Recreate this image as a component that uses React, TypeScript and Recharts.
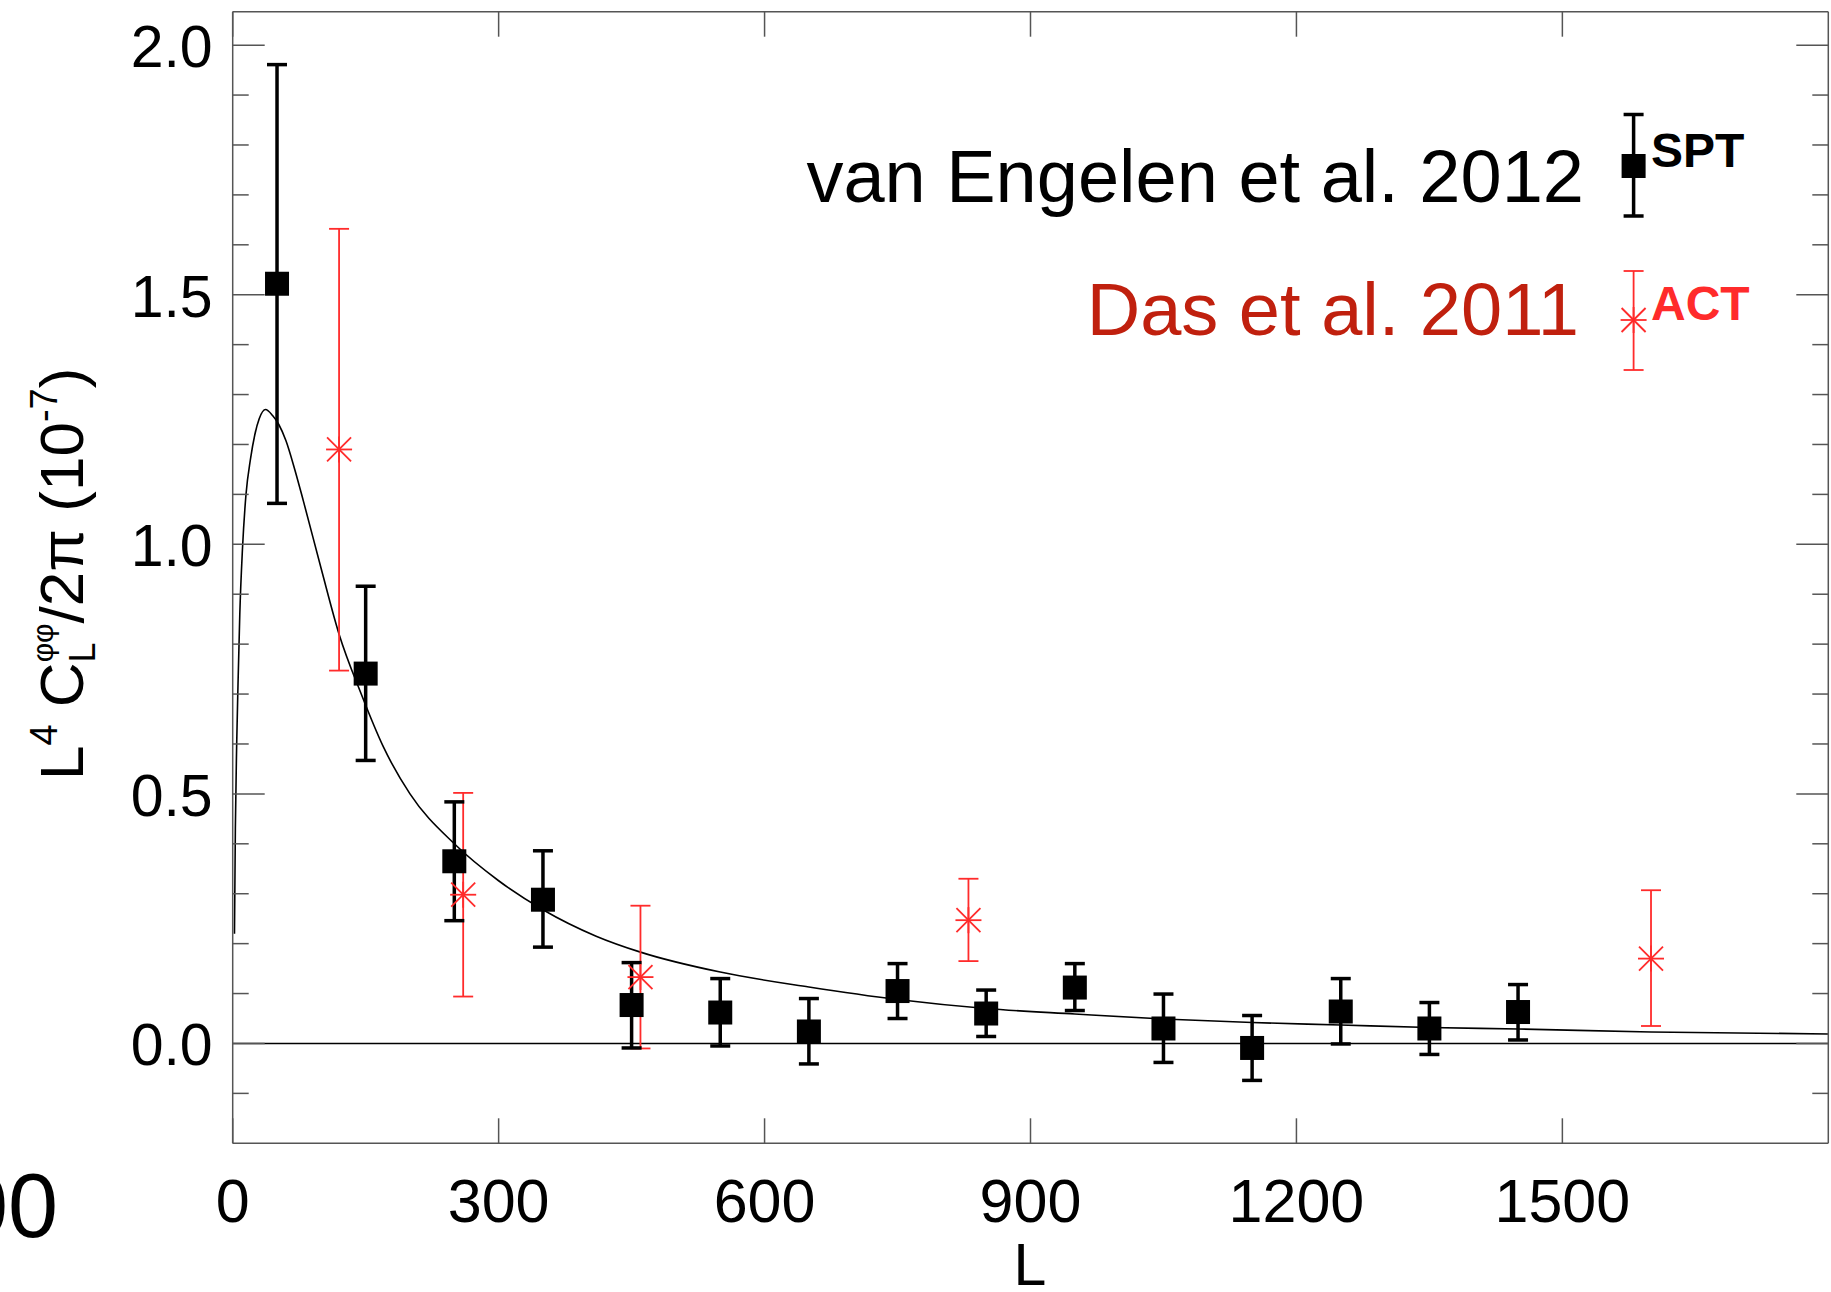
import React from "react";
import { ComposedChart, XAxis, YAxis, Scatter, Line, ErrorBar, ReferenceLine } from "recharts";

const FONT = '"Liberation Sans", Arial, Helvetica, sans-serif';
const FRAME = "#555";
const RED = "#ff2b2b";
const RED_TEXT = "#c0200e";

// SPT bandpowers (van Engelen et al. 2012)
const SPT_L = [50, 150, 250, 350, 450, 550, 650, 750, 850, 950, 1050, 1150, 1250, 1350, 1450];
const SPT_VAL = [1.522, 0.741, 0.365, 0.288, 0.077, 0.062, 0.024, 0.105, 0.06, 0.112, 0.03, -0.009, 0.064, 0.03, 0.063];
const SPT_HI = [1.961, 0.916, 0.484, 0.386, 0.162, 0.13, 0.09, 0.16, 0.107, 0.16, 0.099, 0.056, 0.13, 0.082, 0.118];
const SPT_LO = [1.082, 0.567, 0.246, 0.193, -0.009, -0.005, -0.041, 0.05, 0.014, 0.066, -0.038, -0.074, -0.001, -0.022, 0.007];

// ACT bandpowers (Das et al. 2011)
const ACT_L = [120, 260, 460, 830, 1600];
const ACT_VAL = [1.19, 0.298, 0.133, 0.247, 0.17];
const ACT_HI = [1.632, 0.502, 0.276, 0.33, 0.307];
const ACT_LO = [0.747, 0.094, -0.01, 0.165, 0.035];

// theory curve
const THEORY_L = [2, 3, 4.5, 6, 8, 11, 15, 20, 25, 30, 37, 45, 52, 60, 70, 80, 100, 120, 145, 170, 200, 250, 300, 350, 410, 460, 550, 650, 750, 850, 950, 1050, 1150, 1250, 1350, 1450, 1600, 1800];
const THEORY_V = [0.22, 0.43, 0.6, 0.72, 0.86, 0.99, 1.1, 1.17, 1.22, 1.252, 1.27, 1.258, 1.24, 1.208, 1.15, 1.085, 0.95, 0.82, 0.7, 0.594, 0.5, 0.4, 0.326, 0.268, 0.215, 0.183, 0.143, 0.113, 0.088, 0.07, 0.059, 0.049, 0.042, 0.037, 0.032, 0.029, 0.023, 0.019];

// axes
const X_TICKS = [0, 300, 600, 900, 1200, 1500];
const X_LABELS = ["0", "300", "600", "900", "1200", "1500"];
const Y_TICKS = [-0.1, 0, 0.1, 0.2, 0.3, 0.4, 0.5, 0.6, 0.7, 0.8, 0.9, 1, 1.1, 1.2, 1.3, 1.4, 1.5, 1.6, 1.7, 1.8, 1.9, 2];
const Y_MAJOR = [0, 0.5, 1, 1.5, 2];
const Y_LABELS = ["0.0", "0.5", "1.0", "1.5", "2.0"];

const W = 1831;
const H = 1292;
// every axis is 1px thick, so the plot box lands at 232.7..1828.3 x 11.7..1143.3
const MARGIN = { top: 10.7, right: 1.7, bottom: 147.7, left: 231.7 };

const spt = SPT_L.map((L, i) => ({ L, v: SPT_VAL[i], err: [SPT_VAL[i] - SPT_LO[i], SPT_HI[i] - SPT_VAL[i]] }));
const act = ACT_L.map((L, i) => ({ L, v: ACT_VAL[i], err: [ACT_VAL[i] - ACT_LO[i], ACT_HI[i] - ACT_VAL[i]] }));
const theory = THEORY_L.map((L, i) => ({ L, v: THEORY_V[i] }));

function Square(props: any) {
  const { cx, cy } = props;
  if (cx == null || cy == null) return null;
  return <rect x={cx - 12} y={cy - 12} width={24} height={24} fill="#000" />;
}

function Asterisk(props: any) {
  const { cx, cy } = props;
  if (cx == null || cy == null) return null;
  const r = 13;
  const d = 12;
  return (
    <g stroke={RED} strokeWidth={1.8}>
      <line x1={cx - r} y1={cy} x2={cx + r} y2={cy} />
      <line x1={cx} y1={cy - r} x2={cx} y2={cy + r} />
      <line x1={cx - d} y1={cy - d} x2={cx + d} y2={cy + d} />
      <line x1={cx - d} y1={cy + d} x2={cx + d} y2={cy - d} />
    </g>
  );
}

function BottomTick(props: any) {
  const { x, y, payload } = props;
  const i = X_TICKS.indexOf(payload.value);
  return (
    <g>
      <line x1={x} y1={y} x2={x} y2={y - 25} stroke={FRAME} strokeWidth={1.5} />
      {i >= 0 && (
        <text x={x} y={y + 79} textAnchor="middle" fontSize={61} fontFamily={FONT} fill="#000">
          {X_LABELS[i]}
        </text>
      )}
    </g>
  );
}

function TopTick(props: any) {
  const { x, y } = props;
  return <line x1={x} y1={y} x2={x} y2={y + 25} stroke={FRAME} strokeWidth={1.5} />;
}

function LeftTick(props: any) {
  const { x, y, payload } = props;
  const i = Y_MAJOR.indexOf(payload.value);
  const len = i >= 0 ? 32 : 16;
  return (
    <g>
      <line x1={x} y1={y} x2={x + len} y2={y} stroke={FRAME} strokeWidth={1.5} />
      {i >= 0 && (
        <text x={x - 20} y={y + 22} textAnchor="end" fontSize={59} fontFamily={FONT} fill="#000">
          {Y_LABELS[i]}
        </text>
      )}
    </g>
  );
}

function RightTick(props: any) {
  const { x, y, payload } = props;
  const len = Y_MAJOR.indexOf(payload.value) >= 0 ? 32 : 16;
  return <line x1={x} y1={y} x2={x - len} y2={y} stroke={FRAME} strokeWidth={1.5} />;
}

function Overlay() {
  const mx = 1633.6;
  return (
    <svg width={W} height={H} style={{ position: "absolute", left: 0, top: 0, pointerEvents: "none" }}>
      {/* y axis title */}
      <text transform="translate(83,780) rotate(-90)" fontSize={62} fontFamily={FONT} fill="#000">
        <tspan>L</tspan>
        <tspan fontSize={38} dy={-26}>4</tspan>
        <tspan dy={26}> C</tspan>
        <tspan fontSize={36} dy={12}>L</tspan>
        <tspan fontSize={30} dx={-20} dy={-42}>φφ</tspan>
        <tspan dy={30}>/2π (10</tspan>
        <tspan fontSize={38} dy={-26}>-7</tspan>
        <tspan dy={26}>)</tspan>
      </text>

      {/* x axis title */}
      <text x={1030} y={1285} textAnchor="middle" fontSize={59} fontFamily={FONT} fill="#000">L</text>

      {/* stray clipped label at the left edge */}
      <text x={58} y={1237} textAnchor="end" fontSize={90} fontFamily={FONT} fill="#000">00</text>

      {/* legend: SPT */}
      <text x={1584} y={202} textAnchor="end" fontSize={74} fontFamily={FONT} fill="#000">van Engelen et al. 2012</text>
      <g stroke="#000" strokeWidth={3.5}>
        <line x1={mx} y1={114.5} x2={mx} y2={216} />
        <line x1={mx - 10} y1={114.5} x2={mx + 10} y2={114.5} />
        <line x1={mx - 10} y1={216} x2={mx + 10} y2={216} />
      </g>
      <rect x={mx - 12} y={154} width={24} height={24} fill="#000" />
      <text x={1651} y={167} fontSize={48} fontWeight="bold" fontFamily={FONT} fill="#000">SPT</text>

      {/* legend: ACT */}
      <text x={1579} y={335} textAnchor="end" fontSize={74} fontFamily={FONT} fill={RED_TEXT}>Das et al. 2011</text>
      <g stroke={RED} strokeWidth={1.8}>
        <line x1={mx} y1={271} x2={mx} y2={370} />
        <line x1={mx - 10} y1={271} x2={mx + 10} y2={271} />
        <line x1={mx - 10} y1={370} x2={mx + 10} y2={370} />
      </g>
      <Asterisk cx={mx} cy={320} />
      <text x={1651} y={320} fontSize={48} fontWeight="bold" fontFamily={FONT} fill={RED}>ACT</text>
    </svg>
  );
}

export default function App() {
  const axisLine = { stroke: FRAME, strokeWidth: 1.5 };
  return (
    <div style={{ position: "absolute", left: 0, top: 0, width: W, height: H, background: "#fff" }}>
      <ComposedChart width={W} height={H} margin={MARGIN}>
        <XAxis
          xAxisId="b"
          type="number"
          dataKey="L"
          domain={[0, 1800]}
          allowDataOverflow
          ticks={X_TICKS}
          interval={0}
          height={1}
          tickSize={0}
          tickMargin={0}
          tickLine={false}
          axisLine={axisLine}
          tick={<BottomTick />}
        />
        <XAxis
          xAxisId="t"
          orientation="top"
          type="number"
          dataKey="L"
          domain={[0, 1800]}
          allowDataOverflow
          ticks={X_TICKS}
          interval={0}
          height={1}
          tickSize={0}
          tickMargin={0}
          tickLine={false}
          axisLine={axisLine}
          tick={<TopTick />}
        />
        <YAxis
          yAxisId="l"
          type="number"
          domain={[-0.2, 2.067]}
          allowDataOverflow
          ticks={Y_TICKS}
          interval={0}
          width={1}
          tickSize={0}
          tickMargin={0}
          tickLine={false}
          axisLine={axisLine}
          tick={<LeftTick />}
        />
        <YAxis
          yAxisId="r"
          orientation="right"
          type="number"
          domain={[-0.2, 2.067]}
          allowDataOverflow
          ticks={Y_TICKS}
          interval={0}
          width={1}
          tickSize={0}
          tickMargin={0}
          tickLine={false}
          axisLine={axisLine}
          tick={<RightTick />}
        />
        <ReferenceLine xAxisId="b" yAxisId="l" y={0} stroke="#000" strokeWidth={1.6} />
        <Line
          xAxisId="b"
          yAxisId="l"
          data={theory}
          dataKey="v"
          type="monotone"
          stroke="#000"
          strokeWidth={1.6}
          dot={false}
          activeDot={false}
          isAnimationActive={false}
        />
        <Scatter xAxisId="b" yAxisId="l" data={act} dataKey="v" shape={<Asterisk />} isAnimationActive={false}>
          <ErrorBar dataKey="err" direction="y" width={10} stroke={RED} strokeWidth={1.8} />
        </Scatter>
        <Scatter xAxisId="b" yAxisId="l" data={spt} dataKey="v" shape={<Square />} isAnimationActive={false}>
          <ErrorBar dataKey="err" direction="y" width={10} stroke="#000" strokeWidth={3.5} />
        </Scatter>
      </ComposedChart>
      <Overlay />
    </div>
  );
}
